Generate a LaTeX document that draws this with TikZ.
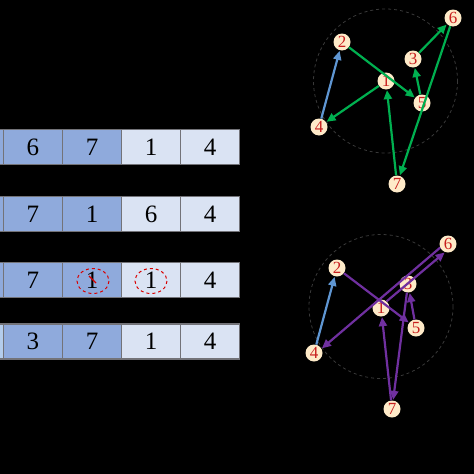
\documentclass[tikz,border=0pt]{standalone}
\usepackage{fontspec}
\setmainfont{Liberation Serif}
\usetikzlibrary{arrows.meta}
\definecolor{celldark}{RGB}{143,170,220}
\definecolor{celllight}{RGB}{218,227,243}
\definecolor{cellpale}{RGB}{180,205,236}
\definecolor{cellline}{RGB}{115,115,120}
\definecolor{vtxfill}{RGB}{254,234,200}
\definecolor{vtxtext}{RGB}{200,30,30}
\definecolor{greenarr}{RGB}{0,176,80}
\definecolor{bluearr}{RGB}{95,150,210}
\definecolor{purplearr}{RGB}{112,48,160}
\tikzset{
  cell/.style={draw=cellline, line width=1.2pt, minimum width=59pt, minimum height=35pt,
    inner sep=0pt, font=\fontsize{25}{25}\selectfont},
  dark/.style={cell, fill=celldark},
  light/.style={cell, fill=celllight},
  vtx/.style={circle, fill=vtxfill, text=vtxtext, minimum size=17pt, inner sep=0pt,
    font=\fontsize{17}{17}\selectfont},
  edge/.style={line width=2.2pt, -{Triangle[length=9pt,width=8pt]}, shorten >=0.5pt},
  dupring/.style={draw=red!85!black, dashed, line width=1pt}
}
\begin{document}
\begin{tikzpicture}[x=1pt, y=-1pt]
    \fill[black] (0,0) rectangle (474,474);
    \clip (0,0) rectangle (474,474);
    % arrays
    \node [dark] (a0) at (-26,147) {};
    \node [dark] (a1) at (33,147) {6};
    \node [dark] (a2) at (92,147) {7};
    \node [light] (a3) at (151,147) {1};
    \node [light] (a4) at (210,147) {4};
    \node [dark] (b0) at (-26,214) {};
    \node [dark] (b1) at (33,214) {7};
    \node [dark] (b2) at (92,214) {1};
    \node [light] (b3) at (151,214) {6};
    \node [light] (b4) at (210,214) {4};
    \node [dark] (c0) at (-26,280) {};
    \node [dark] (c1) at (33,280) {7};
    \node [dark] (c2) at (92,280) {1};
    \node [light] (c3) at (151,280) {1};
    \node [light] (c4) at (210,280) {4};
    \node [cell, fill=cellpale] (d0) at (-26,341.5) {};
    \node [dark] (d1) at (33,341.5) {3};
    \node [dark] (d2) at (92,341.5) {7};
    \node [light] (d3) at (151,341.5) {1};
    \node [light] (d4) at (210,341.5) {4};
    \draw [dupring] (93,281) ellipse [x radius=16, y radius=12.5];
    \draw [dupring] (151,281) ellipse [x radius=16, y radius=12.5];
    \draw [red!85!black, line width=1.2pt] (89,276) -- (96,283);
    % top graph
    \draw [gray!45!black, dashed, line width=0.8pt] (385.5,81) circle [radius=72];
    \node [vtx] (g1) at (386,81) {1};
    \node [vtx] (g2) at (342,42) {2};
    \node [vtx] (g3) at (413,59) {3};
    \node [vtx] (g4) at (319,127) {4};
    \node [vtx] (g5) at (422,103) {5};
    \node [vtx] (g6) at (453,18) {6};
    \node [vtx] (g7) at (397,184) {7};
    \draw [edge, bluearr] (g4) -- (g2);
    \draw [edge, greenarr] (g2) -- (g5);
    \draw [edge, greenarr] (g5) -- (g3);
    \draw [edge, greenarr] (g3) -- (g6);
    \draw [edge, greenarr] (g6) -- (g7);
    \draw [edge, greenarr] (g7) -- (g1);
    \draw [edge, greenarr] (g1) -- (g4);
    % bottom graph
    \draw [gray!45!black, dashed, line width=0.8pt] (381,306.5) circle [radius=72];
    \node [vtx] (h1) at (381,308) {1};
    \node [vtx] (h2) at (337,268) {2};
    \node [vtx] (h3) at (408,284) {3};
    \node [vtx] (h4) at (314,353) {4};
    \node [vtx] (h5) at (416,328) {5};
    \node [vtx] (h6) at (448,244) {6};
    \node [vtx] (h7) at (392,409) {7};
    \draw [edge, bluearr] (h4) -- (h2);
    \draw [edge, purplearr] (h2) -- (h5);
    \draw [edge, purplearr] (h5) -- (h3);
    \draw [edge, purplearr] (h3) -- (h7);
    \draw [edge, purplearr] (h7) -- (h1);
    \draw [edge, purplearr] (h1.50) -- (h6.250);
    \draw [edge, purplearr] (h6.205) -- (h4.30);
\end{tikzpicture}
\end{document}
